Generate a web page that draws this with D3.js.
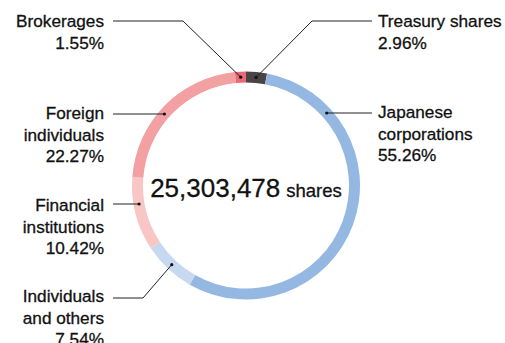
<!DOCTYPE html>
<html>
<head>
<meta charset="utf-8">
<script src="https://cdn.jsdelivr.net/npm/d3@7"></script>
<style>
  html, body { margin: 0; padding: 0; background: #fff; }
  svg { display: block; font-family: "Liberation Sans", Arial, Helvetica, sans-serif; }
</style>
</head>
<body>
<svg id="chart" width="505" height="343"></svg>
<script>
// Shareholder composition (percent of shares), clockwise from 12 o'clock
const categories = ["Treasury shares", "Japanese corporations", "Individuals and others",
                    "Financial institutions", "Foreign individuals", "Brokerages"];
const sharePercent = [2.96, 55.26, 7.54, 10.42, 22.27, 1.55];
const labelText = [["Treasury shares"], ["Japanese", "corporations"], ["Individuals", "and others"],
                   ["Financial", "institutions"], ["Foreign", "individuals"], ["Brokerages"]];
const totalShares = 25303478;
const colors = ["#4b4447", "#95b8e3", "#c6d9f1", "#f7c6c5", "#f2a0a2", "#e96a72"];

// Label placement: side, first baseline, leader y, elbow x (null = straight leader)
const labelLayout = [
  { side: "right", y: 27,  lineY: 21,  elbowX: 312 },
  { side: "right", y: 118, lineY: 113, elbowX: null },
  { side: "left",  y: 302, lineY: 298, elbowX: 143 },
  { side: "left",  y: 211, lineY: 204, elbowX: null },
  { side: "left",  y: 119, lineY: 114, elbowX: null },
  { side: "left",  y: 27,  lineY: 21,  elbowX: 183 }
];

const svg = d3.select("#chart");
const cx = 246, cy = 185.5, rOuter = 114, rInner = 103, rMid = (rOuter + rInner) / 2;
const g = svg.append("g").attr("transform", `translate(${cx},${cy})`);

const pie = d3.pie().sort(null).value(d => d)(sharePercent);
const arc = d3.arc().innerRadius(rInner).outerRadius(rOuter);

g.selectAll("path.slice").data(pie).join("path")
  .attr("class", "slice")
  .attr("d", arc)
  .attr("fill", (d, i) => colors[i]);

// Centre total
const fmt = d3.format(",");
const total = svg.append("text")
  .attr("x", cx).attr("y", 197)
  .attr("text-anchor", "middle")
  .attr("fill", "#111")
  .attr("stroke", "#111")
  .attr("stroke-width", 0.3);
total.append("tspan").attr("font-size", 26).text(fmt(totalShares));
total.append("tspan").attr("font-size", 18.5).attr("dx", 6).text("shares");

// Labels with leader lines
const textRight = 104, textLeft = 378, lineLeftEnd = 113, lineRightEnd = 372;
pie.forEach((d, i) => {
  const L = labelLayout[i];
  const left = L.side === "left";
  let px, py;
  if (L.elbowX !== null) {
    const a = (d.startAngle + d.endAngle) / 2;
    px = cx + rMid * Math.sin(a);
    py = cy - rMid * Math.cos(a);
  } else {
    const dy = L.lineY - cy;
    const dx = Math.sqrt(rMid * rMid - dy * dy);
    px = cx + (left ? -dx : dx);
    py = L.lineY;
  }
  const startX = left ? lineLeftEnd : lineRightEnd;
  const pts = [[startX, L.lineY]];
  if (L.elbowX !== null) pts.push([L.elbowX, L.lineY]);
  pts.push([px, py]);
  svg.append("path")
    .attr("d", d3.line()(pts))
    .attr("fill", "none")
    .attr("stroke", "#222")
    .attr("stroke-width", 1);
  svg.append("circle").attr("cx", px).attr("cy", py).attr("r", 1.6).attr("fill", "#111");

  const t = svg.append("text")
    .attr("x", left ? textRight : textLeft)
    .attr("y", L.y)
    .attr("text-anchor", left ? "end" : "start")
    .attr("font-size", 17.2)
    .attr("fill", "#111")
    .attr("stroke", "#111")
    .attr("stroke-width", 0.3);
  const lines = labelText[i].concat([sharePercent[i].toFixed(2) + "%"]);
  lines.forEach((s, k) => {
    t.append("tspan")
      .attr("x", left ? textRight : textLeft)
      .attr("dy", k === 0 ? 0 : 21.5)
      .text(s);
  });
});
</script>
</body>
</html>
